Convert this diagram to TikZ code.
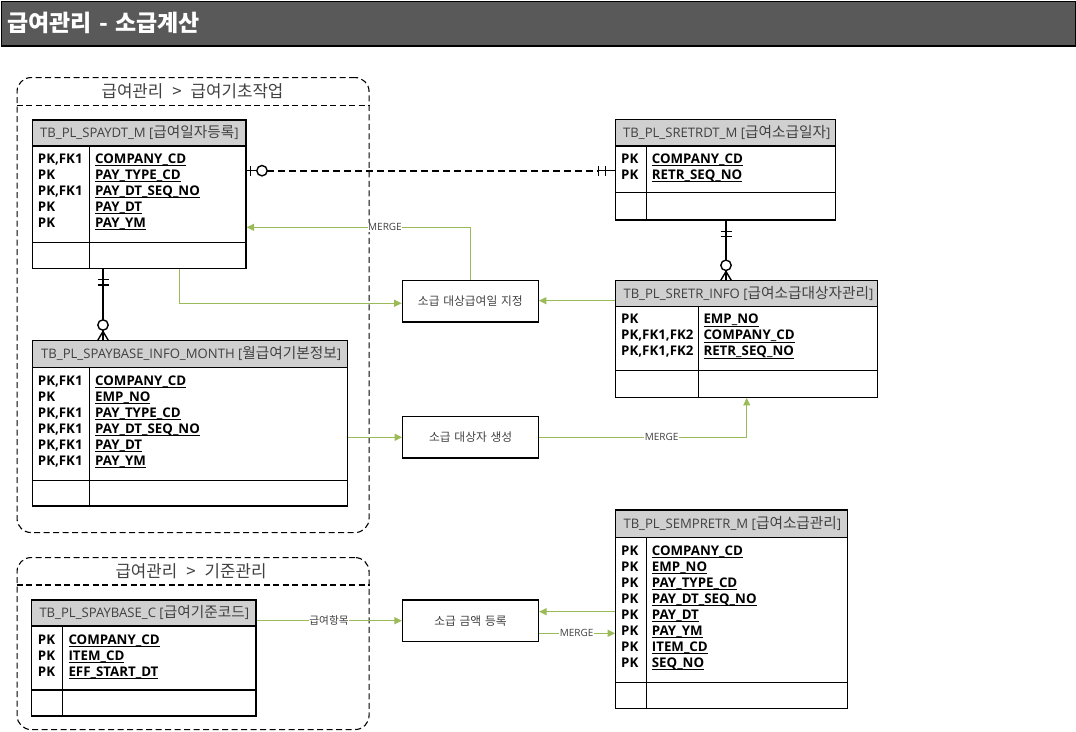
\documentclass[tikz,border=0pt]{standalone}
\usepackage{fontspec}
\setmainfont{Open Sans}
\newfontfamily\kr{Noto Sans CJK KR}[Scale=1.12, WordSpace=2]
\newfontfamily\krtitle{Noto Sans CJK KR}[Scale=1.12, WordSpace=1.4]
\usetikzlibrary{arrows.meta,fit}

\definecolor{hdr}{RGB}{208,208,208}
\definecolor{barfill}{RGB}{89,89,89}
\definecolor{flow}{RGB}{155,187,89}
\definecolor{txt}{RGB}{64,64,64}

% underlined field name with a fixed-depth rule
\newcommand\fld[1]{\setbox0\hbox{#1}\rlap{\vrule height -2pt depth 3.1pt width \wd0}\box0}
% stack of lines with a fixed 16pt pitch, baseline on the first line
\newcommand\rows[1]{\vtop{\baselineskip=16pt\lineskiplimit=-100pt\halign{##\hfil\cr#1\crcr}}}
% table frame: name, x1, y1, x2, y2, header bottom, column x, divider y
\newcommand\ertable[8]{%
  \fill[hdr] (#2,#3) rectangle (#4,#6);
  \draw[tblline] (#2,#6) -- (#4,#6) (#7,#6) -- (#7,#5) (#2,#8) -- (#4,#8);
  \node[tblframe, fit={(#2,#3) (#4,#5)}] (#1) {};}
% spaced separator for group titles
\newcommand\gsep[1]{\hspace{9pt}#1\hspace{9pt}}

\begin{document}
\begin{tikzpicture}[x=1pt,y=-1pt,
  tblframe/.style={draw, line width=1.3pt, inner sep=0pt, rectangle},
  tblline/.style={line width=1.2pt},
  hdrtext/.style={anchor=base west, inner sep=0pt, text=txt, font=\fontsize{13.1}{15}\selectfont},
  keytext/.style={anchor=base west, inner sep=0pt, font=\bfseries\fontsize{13.3}{16}\selectfont},
  grpbox/.style={draw, line width=1.1pt, dash pattern=on 6pt off 3.5pt, rounded corners=14pt, inner sep=0pt, anchor=north west},
  grpline/.style={line width=1.1pt, dash pattern=on 6pt off 3.5pt},
  grptitle/.style={text=txt, inner sep=0pt, font=\kr\fontsize{15}{18}\selectfont},
  procbox/.style={draw, line width=1.2pt, minimum width=136pt, minimum height=41.5pt, inner sep=0pt, text=txt, font=\kr\fontsize{10.5}{13}\selectfont},
  flowline/.style={draw=flow, line width=1.1pt, -{Triangle[length=7.5pt,width=7pt]}},
  flowlbl/.style={fill=white, inner sep=0.6pt, text=txt, font=\fontsize{10}{12}\selectfont},
  rel/.style={line width=1.4pt},
  reldash/.style={line width=1.6pt, dash pattern=on 7pt off 4pt},
]
\useasboundingbox (0,0) rectangle (1076,731);

% title bar
\node[draw, line width=1.5pt, fill=barfill, minimum width=1074pt, minimum height=44.5pt,
      anchor=north west, inner sep=0pt] (titlebar) at (0.75,0.75) {};
\node[anchor=west, text=white, inner sep=0pt, font=\krtitle\bfseries\fontsize{20.5}{24}\selectfont]
      (title) at (7,22.5) {급여관리 - 소급계산};

% groups
\node[grpbox, minimum width=352pt, minimum height=455pt] (grp1) at (16.5,77) {};
\draw[grpline] (grp1.west |- 0,105.5) -- (grp1.east |- 0,105.5);
\node[grptitle] (grp1t) at (192.5,91) {급여관리\gsep{>}급여기초작업};

\node[grpbox, minimum width=352pt, minimum height=172pt] (grp2) at (16.5,557) {};
\draw[grpline] (grp2.west |- 0,585) -- (grp2.east |- 0,585);
\node[grptitle] (grp2t) at (191,571) {급여관리\gsep{>}기준관리};

% tables
\ertable{spaydt}{32.3}{120}{246}{268.3}{146}{89.3}{242.7}
\node[hdrtext] (spaydt-t) at (40,137) {TB\_PL\_SPAYDT\_M [{\kr 급여일자등록}]};
\node[keytext] (spaydt-k) at (37.7,163) {\rows{PK,FK1\cr PK\cr PK,FK1\cr PK\cr PK}};
\node[keytext] (spaydt-f) at (95,163) {\rows{\fld{COMPANY\_CD}\cr \fld{PAY\_TYPE\_CD}\cr \fld{PAY\_DT\_SEQ\_NO}\cr \fld{PAY\_DT}\cr \fld{PAY\_YM}}};

\ertable{infom}{32.3}{340.7}{347.3}{506}{367.3}{89.3}{480.3}
\node[hdrtext] (infom-t) at (41,358) {TB\_PL\_SPAYBASE\_INFO\_MONTH [{\kr 월급여기본정보}]};
\node[keytext] (infom-k) at (37.7,385) {\rows{PK,FK1\cr PK\cr PK,FK1\cr PK,FK1\cr PK,FK1\cr PK,FK1}};
\node[keytext] (infom-f) at (95,385) {\rows{\fld{COMPANY\_CD}\cr \fld{EMP\_NO}\cr \fld{PAY\_TYPE\_CD}\cr \fld{PAY\_DT\_SEQ\_NO}\cr \fld{PAY\_DT}\cr \fld{PAY\_YM}}};

\ertable{sretrdt}{615.7}{119.3}{835.7}{220}{146}{646.3}{192.3}
\node[hdrtext] (sretrdt-t) at (623,137) {TB\_PL\_SRETRDT\_M [{\kr 급여소급일자}]};
\node[keytext] (sretrdt-k) at (621,163) {\rows{PK\cr PK}};
\node[keytext] (sretrdt-f) at (651.7,163) {\rows{\fld{COMPANY\_CD}\cr \fld{RETR\_SEQ\_NO}}};

\ertable{sretr}{615.7}{280.7}{877.3}{397.3}{306.7}{698.3}{370.7}
\node[hdrtext] (sretr-t) at (623.3,298) {TB\_PL\_SRETR\_INFO [{\kr 급여소급대상자관리}]};
\node[keytext] (sretr-k) at (621,323.5) {\rows{PK\cr PK,FK1,FK2\cr PK,FK1,FK2}};
\node[keytext] (sretr-f) at (703.3,323.5) {\rows{\fld{EMP\_NO}\cr \fld{COMPANY\_CD}\cr \fld{RETR\_SEQ\_NO}}};

\ertable{semp}{615.7}{510}{847.3}{708.3}{537.3}{646.7}{682.7}
\node[hdrtext] (semp-t) at (623.3,528) {TB\_PL\_SEMPRETR\_M [{\kr 급여소급관리}]};
\node[keytext] (semp-k) at (621,555) {\rows{PK\cr PK\cr PK\cr PK\cr PK\cr PK\cr PK\cr PK}};
\node[keytext] (semp-f) at (651.7,555) {\rows{\fld{COMPANY\_CD}\cr \fld{EMP\_NO}\cr \fld{PAY\_TYPE\_CD}\cr \fld{PAY\_DT\_SEQ\_NO}\cr \fld{PAY\_DT}\cr \fld{PAY\_YM}\cr \fld{ITEM\_CD}\cr \fld{SEQ\_NO}}};

\ertable{spbc}{31.7}{600}{256}{716}{626}{62.7}{690}
\node[hdrtext] (spbc-t) at (39.3,617) {TB\_PL\_SPAYBASE\_C [{\kr 급여기준코드}]};
\node[keytext] (spbc-k) at (37.7,644) {\rows{PK\cr PK\cr PK}};
\node[keytext] (spbc-f) at (68.3,644) {\rows{\fld{COMPANY\_CD}\cr \fld{ITEM\_CD}\cr \fld{EFF\_START\_DT}}};

% process steps
\node[procbox] (p1) at (470.3,301.3) {소급 대상급여일 지정};
\node[procbox] (p2) at (470.7,437.2) {소급 대상자 생성};
\node[procbox] (p3) at (470.5,620.8) {소급 금액 등록};

% relationship: SPAYDT_M (zero or one) -- SRETRDT_M (exactly one)
\draw[rel] (spaydt.east |- 0,170.7) -- (257,170.7);
\draw[reldash] (267,170.7) -- (598,170.7);
\draw[rel] (598,170.7) -- (sretrdt.west |- 0,170.7);
\draw[rel] (250.5,165.5) -- (250.5,176);
\draw[rel, fill=white] (262,170.7) circle (5.2);
\draw[rel] (598.7,165.5) -- (598.7,176) (605.5,165.5) -- (605.5,176);

% relationship: SPAYDT_M (one) -- SPAYBASE_INFO_MONTH (many)
\draw[rel] (103,0 |- spaydt.south) -- (103,0 |- infom.north);
\draw[rel] (97.5,279.3) -- (108.5,279.3) (97.5,285) -- (108.5,285);
\draw[rel, fill=white] (103,325) circle (5.2);
\draw[rel] (97.5,340.7) -- (103,331.5) -- (108.5,340.7);

% relationship: SRETRDT_M (one) -- SRETR_INFO (many)
\draw[rel] (726,0 |- sretrdt.south) -- (726,0 |- sretr.north);
\draw[rel] (720.5,231.7) -- (731.5,231.7) (720.5,236.5) -- (731.5,236.5);
\draw[rel, fill=white] (726,265.3) circle (5.2);
\draw[rel] (720.5,280.7) -- (726,271.5) -- (731.5,280.7);

% data flows
\draw[flowline] (p1.north) |- (spaydt.east |- 0,227.3);
\draw[flowline] (179.3,0 |- spaydt.south) |- (p1.west |- 0,303.3);
\draw[flowline] (sretr.west |- 0,300.7) -- (p1.east |- 0,300.7);
\draw[flowline] (infom.east |- 0,437.3) -- (p2.west |- 0,437.3);
\draw[flowline] (p2.east |- 0,437.3) -| (746.7,0 |- sretr.south);
\draw[flowline] (spbc.east |- 0,620.7) -- (p3.west |- 0,620.7);
\draw[flowline] (semp.west |- 0,611.7) -- (p3.east |- 0,611.7);
\draw[flowline] (p3.east |- 0,633.3) -- (semp.west |- 0,633.3);

\node[flowlbl] (lbl1) at (385,227.3) {MERGE};
\node[flowlbl] (lbl2) at (661.7,437.3) {MERGE};
\node[flowlbl, font=\kr\fontsize{9.5}{12}\selectfont] (lbl3) at (329,620.7) {급여항목};
\node[flowlbl] (lbl4) at (576.7,633.3) {MERGE};
\end{tikzpicture}
\end{document}
